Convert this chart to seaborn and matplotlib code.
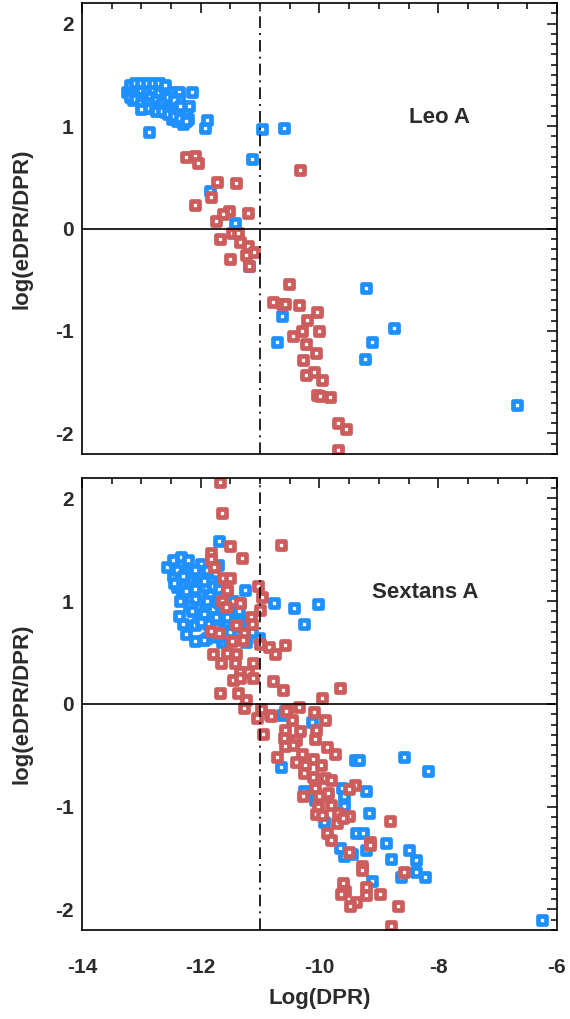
import matplotlib
matplotlib.use("Agg")

import numpy as np
import pandas as pd
import seaborn as sns
from matplotlib import pyplot as plt
from matplotlib.ticker import MultipleLocator

BLUE = "#1E90FF"
RED = "#CD5C5C"

# Leo A
leo_blue_x = [-13.20, -13.15, -12.97, -12.60, -12.55, -12.49, -12.37, -12.37, -12.14, -12.37,
              -12.49, -12.21, -12.88, -11.93, -11.90, -10.97, -10.59, -11.13, -11.84, -11.42,
              -11.19, -13.15, -13.05, -12.95, -12.85, -12.75, -12.65, -13.10, -13.00, -12.90,
              -12.80, -12.70, -12.60, -13.05, -12.95, -12.85, -12.75, -12.65, -12.80, -12.70,
              -12.50, -12.45, -12.30, -12.25, -12.20, -12.40, -12.30,
              -13.25, -13.20, -13.10, -13.00, -12.90, -12.80, -12.70, -12.60, -13.20, -13.10,
              -13.00, -12.90, -12.85, -12.75, -12.65, -12.55, -12.45, -12.35, -12.25, -12.55,
              -12.45, -12.35, -12.90, -13.00,
              -9.22, -8.74, -9.11, -9.24, -6.68, -10.63, -10.72]
leo_blue_y = [1.33, 1.25, 1.19, 1.14, 1.19, 1.33, 1.33, 1.26, 1.33, 1.13,
              1.07, 1.07, 0.94, 0.98, 1.06, 0.97, 0.98, 0.68, 0.37, 0.05,
              -0.37, 1.38, 1.40, 1.40, 1.40, 1.40, 1.39, 1.32, 1.35, 1.33,
              1.35, 1.32, 1.30, 1.27, 1.26, 1.28, 1.25, 1.22, 1.20, 1.18,
              1.22, 1.15, 1.10, 1.15, 1.20, 1.05, 1.02,
              1.33, 1.40, 1.42, 1.42, 1.42, 1.42, 1.42, 1.40, 1.28, 1.26,
              1.22, 1.22, 1.18, 1.15, 1.15, 1.12, 1.10, 1.08, 1.05, 1.28,
              1.25, 1.20, 1.18, 1.17,
              -0.58, -0.97, -1.11, -1.27, -1.72, -0.85, -1.11]
leo_red_x = [-12.25, -12.10, -12.05, -10.33, -11.73, -11.40, -11.83, -12.09, -11.52, -11.62,
             -11.20, -11.74, -11.48, -11.37, -11.67, -11.34, -11.21, -11.10, -11.23, -11.51,
             -11.19, -10.52, -10.78, -10.64, -10.58, -10.34, -10.04, -10.21, -10.30, -10.01,
             -10.45, -10.22, -10.06, -10.27, -10.23, -10.09, -9.96, -10.05, -9.99, -9.82,
             -9.68, -9.56, -9.68]
leo_red_y = [0.70, 0.71, 0.64, 0.57, 0.45, 0.44, 0.31, 0.23, 0.17, 0.14,
             0.15, 0.07, -0.04, -0.04, -0.10, -0.13, -0.17, -0.23, -0.26, -0.30,
             -0.37, -0.54, -0.72, -0.74, -0.74, -0.75, -0.81, -0.89, -1.00, -1.00,
             -1.05, -1.13, -1.21, -1.28, -1.43, -1.40, -1.48, -1.62, -1.63, -1.64,
             -1.90, -1.96, -2.16]

# Sextans A
sex_blue_x = [-11.69, -12.57, -12.46, -12.33, -12.21, -12.00, -11.71, -12.46, -12.19, -12.04,
              -11.83, -12.40, -12.18, -12.32, -12.01, -11.85, -11.26, -11.34, -10.77, -10.43,
              -12.36, -12.06, -11.90, -12.04, -11.68, -12.10, -11.87, -11.56, -12.25, -12.09,
              -11.89, -11.65, -11.23, -11.02, -11.14, -10.26, -10.03, -10.58,
              -12.20, -12.00, -11.90, -11.80, -11.70, -11.60, -11.50, -11.90, -12.10, -11.95,
              -11.80, -11.75, -11.60, -11.45, -11.40, -12.20, -12.25, -11.70, -11.50,
              -12.40, -12.30, -12.10, -11.95, -12.35, -12.15, -12.00, -11.85, -11.70, -11.55,
              -11.45, -11.35, -11.40, -11.30, -11.20, -12.45, -12.10, -11.65, -11.55, -12.30,
              -11.75, -11.95, -11.50,
              -10.64, -10.12, -10.65, -10.26, -9.40, -9.33, -8.58, -9.62, -9.22, -10.26,
              -10.08, -9.59, -9.59, -9.16, -9.93, -9.39, -9.26, -8.88, -9.66, -9.59,
              -9.46, -9.21, -8.49, -8.80, -8.38, -8.38, -8.63, -9.11, -8.18, -8.22, -6.25]
sex_blue_y = [1.59, 1.33, 1.40, 1.43, 1.40, 1.36, 1.35, 1.25, 1.20, 1.21,
              1.20, 1.14, 1.15, 1.05, 1.07, 1.06, 1.11, 0.98, 0.98, 0.93,
              0.86, 0.94, 0.92, 0.85, 0.85, 0.77, 0.78, 0.79, 0.68, 0.61,
              0.64, 0.60, 0.60, 0.64, 0.70, 0.78, 0.97, -0.07,
              1.28, 1.25, 1.30, 1.15, 1.12, 1.05, 1.00, 1.00, 1.02, 0.88,
              0.92, 0.75, 0.72, 0.85, 0.70, 0.95, 1.10, 0.98, 0.92,
              1.30, 1.25, 1.30, 1.20, 1.00, 0.90, 0.80, 0.70, 0.65, 0.85,
              1.00, 0.90, 0.80, 0.75, 0.80, 1.18, 1.12, 1.20, 1.10, 0.78,
              0.85, 0.62, 0.70,
              -0.11, -0.18, -0.61, -0.58, -0.55, -0.55, -0.52, -0.82, -0.85, -0.85,
              -0.93, -0.90, -0.99, -1.06, -1.15, -1.26, -1.26, -1.35, -1.40, -1.48,
              -1.46, -1.42, -1.42, -1.51, -1.52, -1.64, -1.68, -1.72, -0.65, -1.68, -2.10]
sex_red_x = [-11.68, -11.64, -11.51, -10.65, -11.83, -11.83, -11.31, -11.78, -11.62, -11.50,
             -11.03, -10.97, -11.55, -11.64, -11.34, -11.58, -11.00, -11.16, -11.14, -11.41,
             -11.83, -11.69, -11.28, -11.48, -11.29, -11.00, -10.85, -10.58, -10.75, -11.79,
             -11.56, -11.40, -11.66, -11.42, -11.12, -11.34, -11.20, -11.45, -11.34, -11.12,
             -10.79, -10.62, -11.67, -11.38, -11.24, -11.28, -10.99, -10.84, -10.55,
             -9.66, -9.96, -10.34, -10.57, -10.09, -9.91, -10.47, -10.82, -11.05, -10.96,
             -10.58, -10.33, -10.06, -10.07, -10.59, -10.40, -10.58, -10.44, -9.88, -9.74,
             -10.30, -10.71, -10.11, -10.40, -9.98, -10.25, -10.26, -10.11, -9.91, -9.80,
             -9.40, -9.50, -10.08, -10.27, -10.00, -9.85, -9.80, -10.02, -9.68, -9.50,
             -10.06, -9.96, -9.70, -9.60, -8.81, -9.87, -9.80, -9.15, -9.15, -9.50,
             -9.29, -9.29, -9.60, -9.21, -9.57, -9.63, -8.98, -9.21, -9.39, -9.49,
             -8.67, -8.80, -8.58]
sex_red_y = [2.16, 1.86, 1.54, 1.55, 1.47, 1.41, 1.42, 1.33, 1.23, 1.23,
             1.15, 1.04, 1.11, 1.00, 0.98, 0.94, 0.91, 0.85, 0.78, 0.77,
             0.71, 0.69, 0.69, 0.61, 0.62, 0.58, 0.55, 0.57, 0.49, 0.49,
             0.50, 0.49, 0.40, 0.40, 0.40, 0.31, 0.31, 0.23, 0.25, 0.25,
             0.22, 0.14, 0.11, 0.11, 0.04, -0.04, -0.05, -0.11, -0.06,
             0.16, 0.06, -0.03, -0.07, -0.08, -0.16, -0.16, -0.12, -0.14, -0.29,
             -0.25, -0.26, -0.25, -0.34, -0.33, -0.35, -0.41, -0.40, -0.42, -0.49,
             -0.49, -0.52, -0.54, -0.56, -0.59, -0.59, -0.67, -0.71, -0.72, -0.74,
             -0.79, -0.83, -0.82, -0.90, -0.90, -0.87, -0.98, -1.00, -1.06, -1.09,
             -1.07, -1.08, -1.16, -1.11, -1.14, -1.26, -1.32, -1.34, -1.37, -1.44,
             -1.58, -1.62, -1.74, -1.78, -1.82, -1.85, -1.85, -1.86, -1.93, -1.97,
             -1.97, -2.16, -1.64]

panels = [
    ("Leo A", leo_blue_x, leo_blue_y, leo_red_x, leo_red_y, (-7.97, 1.08)),
    ("Sextans A", sex_blue_x, sex_blue_y, sex_red_x, sex_red_y, (-8.22, 1.08)),
]

sns.set_theme(style="white")
plt.rcParams["font.family"] = ["Liberation Sans", "DejaVu Sans"]
plt.rcParams["font.weight"] = "bold"
TEXT = "#2b2b2b"

fig = plt.figure(figsize=(5.70, 10.19), dpi=100)
rects = [[0.144, 0.5545, 0.833, 0.4425], [0.144, 0.0873, 0.833, 0.4437]]

for i, (rect, (name, bx, by, rx, ry, txt)) in enumerate(zip(rects, panels)):
    ax = fig.add_axes(rect)
    for xs, ys, c in ((bx, by, BLUE), (rx, ry, RED)):
        frame = pd.DataFrame({"x": xs, "y": ys})
        sns.scatterplot(data=frame, x="x", y="y", marker="s", s=26, color=c,
                        linewidth=3.4, ax=ax, legend=False)
        coll = ax.collections[-1]
        coll.set_facecolor("white")
        coll.set_edgecolor(c)
    ax.axhline(0, color="black", linewidth=1.2, zorder=1)
    ax.axvline(-11, color="black", linewidth=1.2, linestyle=(0, (7, 3, 1.2, 3)), zorder=1)
    ax.set_xlim(-14, -6)
    ax.set_ylim(-2.2, 2.2)
    ax.xaxis.set_major_locator(MultipleLocator(2))
    ax.xaxis.set_minor_locator(MultipleLocator(0.5))
    ax.yaxis.set_major_locator(MultipleLocator(1))
    ax.yaxis.set_minor_locator(MultipleLocator(0.1))
    ax.tick_params(which="both", direction="in", top=True, right=True, colors="black",
                   width=1.1, labelcolor=TEXT, labelsize=15)
    ax.tick_params(which="major", length=7)
    ax.tick_params(which="minor", length=4)
    ax.tick_params(axis="x", pad=20)
    ax.tick_params(axis="y", pad=6)
    for sp in ax.spines.values():
        sp.set_color("black")
        sp.set_linewidth(1.2)
    ax.set_yticks([-2, -1, 0, 1, 2], labels=["-2", "-1", "0", "1", "2"], fontweight="bold")
    ax.set_ylabel("log(eDPR/DPR)", fontsize=16, fontweight="bold", color=TEXT)
    ax.yaxis.set_label_coords(-0.105, 0.5)
    ax.text(txt[0], txt[1], name, ha="center", va="center", fontsize=16,
            fontweight="bold", color=TEXT)
    if i == 0:
        ax.set_xticklabels([])
        ax.set_xlabel("")
    else:
        ax.set_xticks([-14, -12, -10, -8, -6], labels=["-14", "-12", "-10", "-8", "-6"],
                      fontweight="bold")
        ax.set_xlabel("Log(DPR)", fontsize=16, fontweight="bold", color=TEXT)
        ax.xaxis.set_label_coords(0.5, -0.128)

fig.savefig("out.png", dpi=100)
plt.close(fig)
